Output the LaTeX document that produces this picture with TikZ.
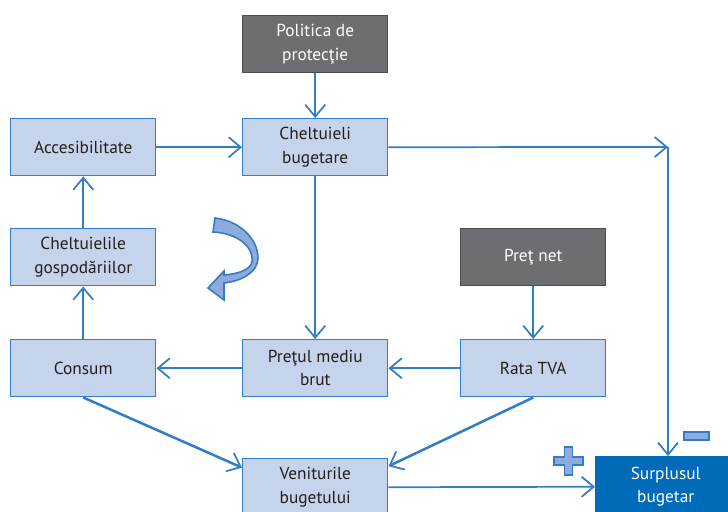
\documentclass[tikz,border=0pt]{standalone}
\usepackage{fontspec}
\setmainfont{PT Sans}
\usepackage{xcolor}
\usetikzlibrary{arrows.meta}

\definecolor{lineblue}{RGB}{50,125,195}
\definecolor{boxfill}{RGB}{198,212,235}
\definecolor{boxgray}{RGB}{109,110,113}
\definecolor{surplusblue}{RGB}{0,107,185}
\definecolor{signfill}{RGB}{143,170,220}
\definecolor{txt}{RGB}{35,31,32}

\tikzset{
  box/.style={draw=lineblue, fill=boxfill, line width=1.1pt, text=txt,
    minimum width=108.75pt, minimum height=42.75pt, align=center,
    inner sep=0.75pt, font=\fontsize{13}{17.5}\selectfont, anchor=north west},
  graybox/.style={box, draw=black!70, fill=boxgray, text=white},
  arr/.style={draw=lineblue, line width=1.3pt,
    -{Straight Barb[length=9pt,width=15pt,line width=1.3pt]}},
  thickarr/.style={arr, line width=1.9pt},
  sign/.style={draw=lineblue, fill=signfill, line width=1pt}
}

\begin{document}
\begin{tikzpicture}[x=0.75pt,y=0.75pt,yscale=-1,xscale=1]
  \useasboundingbox (0,0) rectangle (728,511);

  % boxes
  \node[graybox] (polit) at (242,15) {Politica de\\protecţie};
  \node[box] (chelt) at (242,118) {Cheltuieli\\bugetare};
  \node[box] (acces) at (10,118) {Accesibilitate};
  \node[box] (gosp) at (10,228) {Cheltuielile\\gospodăriilor};
  \node[box] (consum) at (10,339) {Consum};
  \node[box] (pret) at (242,339) {Preţul mediu\\brut};
  \node[graybox] (pretnet) at (460,228) {Preţ net};
  \node[box] (tva) at (460,339) {Rata TVA};
  \node[box] (venit) at (242,458) {Veniturile\\bugetului};
  \node[box, draw=surplusblue, fill=surplusblue, text=white,
    minimum width=105pt, minimum height=45pt] (surplus) at (595,456) {Surplusul\\bugetar};

  \coordinate (turn) at (668,147);

  % connectors
  \draw[arr] (polit) -- (chelt);
  \draw[arr] (acces) -- (chelt);
  \draw[arr] (chelt) -- (turn);
  \draw[arr] (turn) -- (turn |- surplus.north);
  \draw[arr] (chelt) -- (pret);
  \draw[arr] (pretnet) -- (tva);
  \draw[arr] (tva) -- (pret);
  \draw[arr] (pret) -- (consum);
  \draw[arr] (consum) -- (gosp);
  \draw[arr] (gosp) -- (acces);
  \draw[thickarr] (consum.south) -- (venit.165);
  \draw[thickarr] (tva.south) -- (venit.16);
  \draw[arr] (venit.east) -- (surplus.west);

  % curved block arrow
  \draw[sign, line width=1.2pt] (215,218) .. controls (241,221) and (258,240) .. (258,258)
    .. controls (258,272) and (242,281) .. (224,283) -- (224,300) -- (208,288) -- (224,271)
    -- (224,275) .. controls (238,274) and (250,270) .. (252,262)
    .. controls (254,245) and (235,233) .. (213,232) -- cycle;

  % signs
  \draw[sign] (564.5,447) -- (572.5,447) -- (572.5,457) -- (583,457) -- (583,465)
    -- (572.5,465) -- (572.5,475) -- (564.5,475) -- (564.5,465) -- (554,465)
    -- (554,457) -- (564.5,457) -- cycle;
  \draw[sign] (684,432) rectangle (709,440);
\end{tikzpicture}
\end{document}
